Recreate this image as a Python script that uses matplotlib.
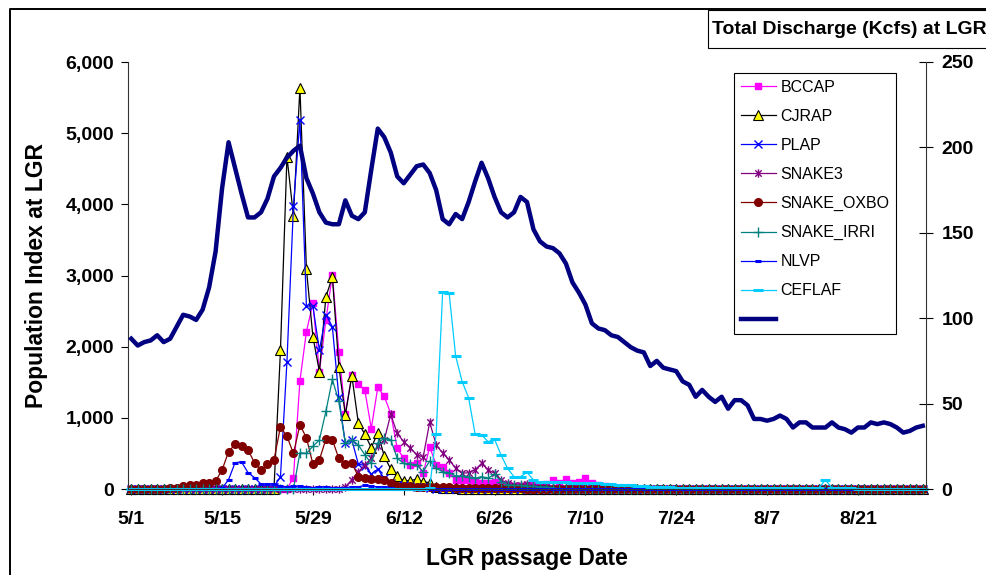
import numpy as np
import matplotlib
matplotlib.use('Agg')
from matplotlib import pyplot as plt
from matplotlib.lines import Line2D
from matplotlib.patches import Rectangle
from matplotlib.path import Path

plt.rcParams['font.family'] = ['Liberation Sans', 'DejaVu Sans']

# 日期: 5/1 ~ 8/31 共123天
n_days = 123
tick_days = [0, 14, 28, 42, 56, 70, 84, 98, 112]
tick_labels = ['5/1', '5/15', '5/29', '6/12', '6/26', '7/10', '7/24', '8/7', '8/21']

# LGR 总流量 (Kcfs), 右轴
discharge = [88, 84, 86, 87, 90, 86, 88, 95, 102, 101,
             99, 105, 118, 139, 176, 203, 188, 173, 159, 159,
             162, 170, 183, 188, 194, 198, 201, 182, 173, 162,
             156, 155, 155, 169, 160, 158, 162, 187, 211, 206,
             197, 183, 179, 184, 189, 190, 185, 175, 158, 155,
             161, 158, 168, 180, 191, 182, 171, 162, 159, 162,
             171, 168, 152, 145, 142, 141, 138, 132, 121, 115,
             108, 97, 94, 93, 90, 89, 86, 83, 81, 80,
             72, 75, 71, 70, 69, 63, 61, 54, 58, 54,
             51, 54, 47, 52, 52, 49, 41, 41, 40, 41,
             43, 41, 36, 39, 39, 36, 36, 36, 39, 36,
             35, 33, 36, 36, 39, 38, 39, 38, 36, 33,
             34, 36, 37]

# 各种群指数 (起始天, 数值), 其余为0
bccap_start = 25
bccap = [160, 1520, 2210, 2610, 1650, 2370, 3010, 1930, 1060, 1600,
         1480, 1390, 850, 1430, 1300, 1060, 570, 430, 340, 370,
         220, 590, 340, 310, 230, 130, 130, 120, 110, 80,
         90, 100, 60, 50, 40, 40, 50, 60, 50, 70,
         120, 80, 140, 90, 100, 150, 80, 60, 40, 30, 20]

cjrap_start = 23
cjrap = [1950, 4670, 3840, 5640, 3090, 2140, 1650, 2700, 2980, 1720,
         1040, 1590, 930, 770, 580, 790, 460, 280, 180, 115,
         115, 140, 100, 90, 30, 20, 20, 10]

plap_start = 22
plap = [30, 170, 1790, 3970, 5190, 2570, 2570, 1950, 2450, 2280,
        1290, 640, 690, 350, 330, 210, 280, 150, 80, 60,
        50, 40, 30, 30, 20]

snake3_start = 33
snake3 = [30, 130, 240, 340, 430, 600, 690, 1050, 780, 665,
          580, 480, 450, 940, 620, 505, 410, 290, 220, 230,
          270, 360, 270, 220, 130, 80, 60, 50, 70, 40,
          30, 30, 20, 20, 20, 10]

oxbo_start = 6
oxbo = [10, 20, 46, 56, 60, 89, 80, 112, 267, 524,
        628, 608, 548, 370, 260, 350, 407, 875, 740, 500,
        900, 720, 350, 410, 700, 690, 430, 350, 365, 175,
        155, 145, 140, 125, 85, 45, 40, 40, 30, 30,
        30, 25, 25, 25, 20, 20, 20, 20, 20, 20,
        20, 20, 20, 20, 20]

irri_start = 26
irri = [510, 500, 600, 690, 1090, 1540, 1230, 640, 690, 620,
        480, 360, 650, 710, 690, 430, 360, 350, 340, 243,
        393, 290, 243, 229, 183, 183, 170, 150, 173, 150,
        211, 103, 60, 50, 50, 40, 40, 30, 30, 20]

nlvp_start = 14
nlvp = [10, 130, 370, 380, 230, 160, 70, 70, 70, 40,
        30, 40, 40, 30, 20, 30, 30, 20, 20, 20,
        30, 30, 50, 40, 30, 30, 20]

ceflaf_start = 46
ceflaf = [20, 773, 2772, 2750, 1870, 1510, 1283, 773, 759, 665,
          698, 478, 290, 173, 173, 234, 126, 100, 100, 100,
          95, 95, 90, 85, 80, 80, 80, 70, 65, 60,
          60, 50, 45, 40, 35, 35, 30, 25, 20, 15,
          15, 15, 15, 15, 15, 15, 15, 15, 15, 15,
          15, 15, 15, 15, 15, 15, 15, 15, 15, 15,
          15, 130, 15, 15, 15, 15]


def pad(start, vals):
    s = np.zeros(n_days)
    s[start:start + len(vals)] = vals
    return s


days = np.arange(n_days)

# Excel 的 * 标记: x 加一条竖线
star = Path([(-1, -1), (1, 1), (-1, 1), (1, -1), (0, -1.3), (0, 1.3)],
            [Path.MOVETO, Path.LINETO, Path.MOVETO, Path.LINETO, Path.MOVETO, Path.LINETO])

series = [
    ('BCCAP', pad(bccap_start, bccap), '#FF00FF', 's', 5, '#FF00FF', '#FF00FF', 1),
    ('CJRAP', pad(cjrap_start, cjrap), 'black', '^', 6.5, '#FFFF00', 'black', 0.8),
    ('PLAP', pad(plap_start, plap), '#0000FF', 'x', 6, '#0000FF', '#0000FF', 1),
    ('SNAKE3', pad(snake3_start, snake3), '#800080', star, 6, '#800080', '#800080', 1),
    ('SNAKE_OXBO', pad(oxbo_start, oxbo), '#800000', 'o', 5.5, '#800000', '#800000', 1),
    ('SNAKE_IRRI', pad(irri_start, irri), '#008080', '+', 7, '#008080', '#008080', 1),
    ('NLVP', pad(nlvp_start, nlvp), '#0000FF', '_', 4, '#0000FF', '#0000FF', 2.2),
    ('CEFLAF', pad(ceflaf_start, ceflaf), '#00CCFF', '_', 6.5, '#00CCFF', '#00CCFF', 2.2),
]

fig = plt.figure(figsize=(9.87, 5.75), dpi=100)
ax = fig.add_axes([128 / 987, 1 - 489 / 575, 798 / 987, 427 / 575])

handles = []
labels = []
for name, vals, color, marker, ms, mfc, mec, mew in series:
    ln, = ax.plot(days, vals, color=color, lw=0.9, marker=marker, markersize=ms,
                  markerfacecolor=mfc, markeredgecolor=mec, markeredgewidth=mew,
                  clip_on=False)
    handles.append(ln)
    labels.append(name)

ax.set_xlim(-0.5, 122.5)
ax.set_ylim(0, 6000)
yt = list(range(0, 7000, 1000))
ax.set_yticks(yt, [f'{v:,}' for v in yt], fontsize=14, fontweight='bold')
ax.set_xticks(tick_days, tick_labels, fontsize=14, fontweight='bold')
ax.tick_params(axis='y', direction='out', length=5, width=0.8, pad=5)
ax.tick_params(axis='x', direction='out', length=4, width=0.8, pad=12)
ax.spines['top'].set_visible(False)
ax.spines['right'].set_visible(False)
for s in ['left', 'bottom']:
    ax.spines[s].set_linewidth(0.8)
    ax.spines[s].set_color('#333333')

ax.set_xlabel('LGR passage Date', fontsize=16.5, fontweight='bold')
ax.xaxis.set_label_coords(0.5, -(559 - 489) / 427)
ax.xaxis.label.set_va('center')
ax.set_ylabel('Population Index at LGR', fontsize=16.5, fontweight='bold')
ax.yaxis.set_label_coords((36 - 128) / 798, 0.5)
ax.yaxis.label.set_va('center')

# 右轴: 流量
ax2 = ax.twinx()
dl, = ax2.plot(days, discharge, color='#000080', lw=3.2, solid_joinstyle='round')
ax2.set_ylim(0, 250)
ax2.set_yticks(range(0, 300, 50), [str(v) for v in range(0, 300, 50)],
               fontsize=14, fontweight='bold')
ax2.tick_params(axis='y', direction='inout', length=10, width=0.8, pad=6)
for s in ['top', 'left', 'bottom']:
    ax2.spines[s].set_visible(False)
ax2.spines['right'].set_linewidth(0.8)
ax2.spines['right'].set_color('#333333')

handles.append(dl)
labels.append('')
leg = ax2.legend(handles, labels, loc='upper left',
                 bbox_to_anchor=(734 / 987, 1 - 73 / 575), bbox_transform=fig.transFigure,
                 frameon=True, fancybox=False, edgecolor='black', framealpha=1,
                 fontsize=11.5, handlelength=2.2, handletextpad=0.3,
                 labelspacing=0.88, borderpad=0.42, borderaxespad=0)
leg.get_frame().set_linewidth(0.8)

# 右轴标题框
fig.add_artist(Rectangle((708 / 987, 1 - 48 / 575), 0.4, 38 / 575, transform=fig.transFigure,
                         facecolor='white', edgecolor='black', lw=0.8, clip_on=False))
fig.text(712 / 987, 1 - 29 / 575, 'Total Discharge (Kcfs) at LGR', fontsize=14,
         fontweight='bold', ha='left', va='center')

# 外框
fig.add_artist(Line2D([9.5 / 987, 9.5 / 987, 1.1], [-0.1, 1 - 8.5 / 575, 1 - 8.5 / 575],
                      transform=fig.transFigure, color='black', lw=1.4))

plt.savefig('out.png', dpi=100)
